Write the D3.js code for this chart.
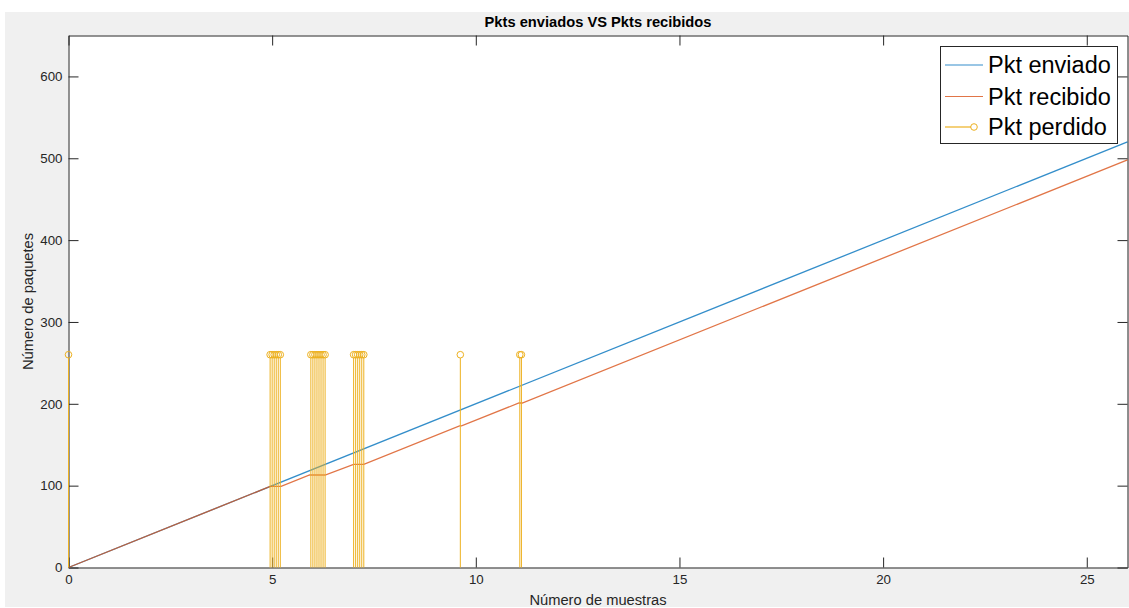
<!DOCTYPE html>
<html>
<head>
<meta charset="utf-8">
<script src="https://cdn.jsdelivr.net/npm/d3@7"></script>
<style>
    html, body { margin: 0; padding: 0; background: #ffffff; }
    svg { display: block; font-family: Arial, "Liberation Sans", Helvetica, sans-serif; }
</style>
</head>
<body>
<div id="chart"></div>
<script>
// Pkt enviado: recta de 0 a 26 muestras
var sentX = [0, 26];
var sentY = [0, 520];
// Pkt recibido: vértices de la línea (tramos planos = paquetes perdidos)
var recvX = [0, 4.95, 5.22, 5.92, 6.3, 7.0, 7.25, 9.6, 9.65, 11.06, 11.14, 26];
var recvY = [0, 99, 99, 113, 113, 126, 126, 173, 173, 201, 201, 498];
// Pkt perdido: posiciones de los stems
var lostX = [0,
    4.95, 5.0, 5.05, 5.1, 5.15, 5.2,
    5.95, 6.0, 6.05, 6.1, 6.15, 6.2, 6.25, 6.3,
    7.0, 7.05, 7.1, 7.15, 7.2, 7.25,
    9.62,
    11.08, 11.12];
var lostY = 260;
var xTicks = [0, 5, 10, 15, 20, 25];
var yTicks = [0, 100, 200, 300, 400, 500, 600];
var seriesNames = ['Pkt enviado', 'Pkt recibido', 'Pkt perdido'];
var colors = ['#0072BD', '#D95319', '#EDB120'];

var W = 1129, H = 608;
var box = {left: 68.5, right: 1127.5, top: 35.5, bottom: 567.5};
var axisColor = '#262626';
var tickLen = 10;

var svg = d3.select('#chart')
    .append('svg')
    .attr('width', W)
    .attr('height', H);

//fondo gris de la figura
svg.append('rect')
    .attr('x', 5).attr('y', 12)
    .attr('width', W - 5).attr('height', 595)
    .attr('fill', '#f0f0f0');

//fondo blanco de los ejes
svg.append('rect')
    .attr('x', box.left).attr('y', box.top)
    .attr('width', box.right - box.left).attr('height', box.bottom - box.top)
    .attr('fill', '#ffffff');

var x = d3.scaleLinear().domain([0, 26]).range([box.left, box.right]);
var y = d3.scaleLinear().domain([0, 650]).range([box.bottom, box.top]);

//ejes con ticks hacia dentro en los cuatro lados
function styleAxis(g) {
    g.select('.domain').attr('stroke', axisColor);
    g.selectAll('.tick line').attr('stroke', axisColor);
    g.selectAll('text')
        .attr('fill', axisColor)
        .style('font-size', '13.3px');
}

svg.append('g')
    .attr('transform', 'translate(0,' + box.bottom + ')')
    .call(d3.axisBottom(x).tickValues(xTicks).tickSizeInner(-tickLen).tickSizeOuter(0).tickPadding(7))
    .call(styleAxis);

svg.append('g')
    .attr('transform', 'translate(0,' + box.top + ')')
    .call(d3.axisTop(x).tickValues(xTicks).tickSizeInner(-tickLen).tickSizeOuter(0).tickFormat(''))
    .call(styleAxis);

svg.append('g')
    .attr('transform', 'translate(' + box.left + ',0)')
    .call(d3.axisLeft(y).tickValues(yTicks).tickSizeInner(-tickLen).tickSizeOuter(0).tickPadding(6))
    .call(styleAxis);

svg.append('g')
    .attr('transform', 'translate(' + box.right + ',0)')
    .call(d3.axisRight(y).tickValues(yTicks).tickSizeInner(-tickLen).tickSizeOuter(0).tickFormat(''))
    .call(styleAxis);

//líneas de datos
var line = d3.line()
    .x(function (d) { return x(d[0]); })
    .y(function (d) { return y(d[1]); });

var plot = svg.append('g');

plot.append('path')
    .datum(d3.zip(sentX, sentY))
    .attr('d', line)
    .attr('fill', 'none')
    .attr('stroke', colors[0])
    .attr('stroke-opacity', 0.8)
    .attr('stroke-width', 1.3);

plot.append('path')
    .datum(d3.zip(recvX, recvY))
    .attr('d', line)
    .attr('fill', 'none')
    .attr('stroke', colors[1])
    .attr('stroke-opacity', 0.8)
    .attr('stroke-width', 1.3);

//stems de paquetes perdidos
plot.selectAll('.stem')
    .data(lostX)
    .enter()
    .append('line')
    .attr('class', 'stem')
    .attr('x1', function (d) { return x(d); })
    .attr('x2', function (d) { return x(d); })
    .attr('y1', y(0))
    .attr('y2', y(lostY) + 3.3)
    .attr('stroke', colors[2])
    .attr('stroke-width', 1);

plot.selectAll('.stem-mark')
    .data(lostX)
    .enter()
    .append('circle')
    .attr('class', 'stem-mark')
    .attr('cx', function (d) { return x(d); })
    .attr('cy', y(lostY))
    .attr('r', 3.3)
    .attr('fill', 'none')
    .attr('stroke', colors[2])
    .attr('stroke-width', 1);

//título y etiquetas
svg.append('text')
    .attr('x', (box.left + box.right) / 2)
    .attr('y', 22)
    .attr('dy', '0.35em')
    .attr('text-anchor', 'middle')
    .style('font-size', '14.7px')
    .style('font-weight', 'bold')
    .attr('fill', '#000')
    .text('Pkts enviados VS Pkts recibidos');

svg.append('text')
    .attr('x', (box.left + box.right) / 2)
    .attr('y', 600)
    .attr('dy', '0.35em')
    .attr('text-anchor', 'middle')
    .style('font-size', '14.7px')
    .attr('fill', axisColor)
    .text('Número de muestras');

svg.append('text')
    .attr('transform', 'translate(28,' + ((box.top + box.bottom) / 2) + ') rotate(-90)')
    .attr('dy', '0.35em')
    .attr('text-anchor', 'middle')
    .style('font-size', '14.7px')
    .attr('fill', axisColor)
    .text('Número de paquetes');

//leyenda
var legend = svg.append('g').attr('class', 'legend');
legend.append('rect')
    .attr('x', 940.5).attr('y', 46.5)
    .attr('width', 177).attr('height', 97)
    .attr('fill', '#ffffff')
    .attr('stroke', axisColor)
    .attr('stroke-width', 1);

var rowY = [65, 96.5, 127];
var items = legend.selectAll('.item')
    .data(seriesNames)
    .enter()
    .append('g')
    .attr('class', 'item')
    .attr('transform', function (d, i) { return 'translate(0,' + rowY[i] + ')'; });

items.append('line')
    .attr('x1', 945)
    .attr('x2', function (d, i) { return i === 2 ? 971 : 983; })
    .attr('y1', 0).attr('y2', 0)
    .attr('stroke', function (d, i) { return colors[i]; })
    .attr('stroke-opacity', function (d, i) { return i === 2 ? 1 : 0.8; })
    .attr('stroke-width', 1.2);

items.filter(function (d, i) { return i === 2; })
    .append('circle')
    .attr('cx', 974).attr('cy', 0).attr('r', 3.3)
    .attr('fill', 'none')
    .attr('stroke', colors[2]);

items.append('text')
    .attr('x', 988)
    .attr('dy', '0.36em')
    .style('font-size', '23.5px')
    .attr('fill', '#000')
    .text(function (d) { return d; });
</script>
</body>
</html>
